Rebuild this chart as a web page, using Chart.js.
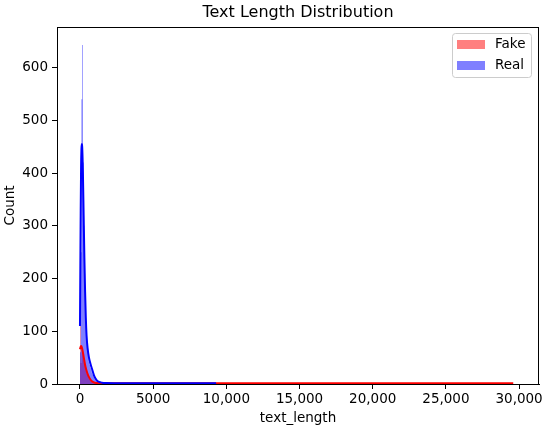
<!DOCTYPE html>
<html>
<head>
<meta charset="utf-8">
<script src="https://cdn.jsdelivr.net/npm/chart.js@4"></script>
<style>
  body { margin: 0; background: #fff; }
</style>
</head>
<body>
<canvas id="histChart" width="550" height="432"></canvas>
<script>
// histogram bins (50 chars wide, starting at 0)
const binWidth = 50;
const realCounts = [60, 250, 540, 643, 420, 300, 210, 150, 110, 80, 62, 50, 42, 36, 30, 26, 22, 18, 14, 11, 9, 7, 6, 5, 4, 3, 3, 2, 2, 2, 1, 1, 1, 1, 0, 1, 0, 1];
const fakeCounts = [375, 40, 65, 60, 55, 45, 38, 30, 25, 20, 16, 13, 10, 8, 6, 5, 4, 3, 3, 2, 2, 2, 1, 1, 1, 1, 0, 1, 0, 1];

// kde curves (scaled to counts)
const realKdeX = [0, 25, 50, 75, 100, 125, 150, 175, 200, 250, 300, 350, 400, 450, 520, 614, 720, 840, 950, 1050, 1150, 1300, 1500, 1800, 2500, 4000, 6000, 9300];
const realKde = [110, 220, 330, 410, 445, 455, 450, 430, 400, 320, 240, 175, 125, 92, 68, 50, 38, 27, 17, 11, 7, 4, 2.5, 1.8, 1.5, 1.3, 1.2, 1.2];
const fakeKdeX = [0, 50, 90, 150, 250, 350, 430, 550, 700, 850, 1020, 1300, 2000, 4000, 10000, 20000, 29600];
const fakeKde = [66, 71, 72, 67, 52, 36, 27, 17, 9, 4.5, 2.5, 2, 1.6, 1.4, 1.3, 1.3, 1.3];

const xTicks = [0, 5000, 10000, 15000, 20000, 25000, 30000];
const yTicks = [0, 100, 200, 300, 400, 500, 600];

const FONT = "'DejaVu Sans', sans-serif";

function histPoints(counts) {
    let pts = counts.map((c, i) => ({ x: i * binWidth, y: c }));
    pts.push({ x: counts.length * binWidth, y: 0 });
    return pts;
}

function kdePoints(xs, ys) {
    return xs.map((x, i) => ({ x: x, y: ys[i] }));
}

// title, legend box and top/right spines
const decorPlugin = {
    id: 'decor',
    afterDraw(chart) {
        const ctx = chart.ctx;
        const a = chart.chartArea;
        ctx.save();
        ctx.strokeStyle = '#000';
        ctx.lineWidth = 1;
        ctx.beginPath();
        ctx.moveTo(a.left, a.top + 0.5);
        ctx.lineTo(a.right, a.top + 0.5);
        ctx.moveTo(a.right - 0.5, a.top);
        ctx.lineTo(a.right - 0.5, a.bottom);
        ctx.stroke();

        ctx.fillStyle = '#000';
        ctx.font = '16px ' + FONT;
        ctx.textAlign = 'center';
        ctx.textBaseline = 'middle';
        ctx.fillText('Text Length Distribution', (a.left + a.right) / 2, 13);

        // legend
        const lx = 452.5, ly = 33.5, lw = 79, lh = 44;
        ctx.beginPath();
        ctx.roundRect(lx, ly, lw, lh, 3);
        ctx.fillStyle = 'rgba(255,255,255,0.8)';
        ctx.fill();
        ctx.strokeStyle = '#cccccc';
        ctx.stroke();

        const items = [['Fake', 'rgba(255,0,0,0.5)'], ['Real', 'rgba(0,0,255,0.5)']];
        ctx.font = '13.5px ' + FONT;
        ctx.textAlign = 'left';
        items.forEach((it, i) => {
            const y = 40 + i * 21;
            ctx.fillStyle = it[1];
            ctx.fillRect(457, y, 28, 9);
            ctx.fillStyle = '#000';
            ctx.fillText(it[0], 495, y + 4.5);
        });
        ctx.restore();
    }
};

const ctx = document.getElementById('histChart');
new Chart(ctx, {
    type: 'line',
    data: {
        datasets: [
            {
                label: 'Real kde',
                data: kdePoints(realKdeX, realKde),
                borderColor: 'blue',
                borderWidth: 2,
                pointRadius: 0,
                cubicInterpolationMode: 'monotone',
                fill: false,
                order: 0
            },
            {
                label: 'Fake kde',
                data: kdePoints(fakeKdeX, fakeKde),
                borderColor: 'red',
                borderWidth: 2,
                pointRadius: 0,
                cubicInterpolationMode: 'monotone',
                fill: false,
                order: 1
            },
            {
                label: 'Real',
                data: histPoints(realCounts),
                stepped: true,
                borderColor: 'transparent',
                borderWidth: 0,
                backgroundColor: 'rgba(0,0,255,0.5)',
                pointRadius: 0,
                fill: 'origin',
                order: 2
            },
            {
                label: 'Fake',
                data: histPoints(fakeCounts),
                stepped: true,
                borderColor: 'transparent',
                borderWidth: 0,
                backgroundColor: 'rgba(255,0,0,0.5)',
                pointRadius: 0,
                fill: 'origin',
                order: 3
            }
        ]
    },
    options: {
        responsive: false,
        animation: false,
        layout: { padding: { left: 0, right: 11, top: 27, bottom: 0 } },
        plugins: {
            legend: { display: false },
            tooltip: { enabled: false },
            title: { display: false }
        },
        scales: {
            x: {
                type: 'linear',
                min: -1570,
                max: 31360,
                afterFit: (s) => { s.height = 48; },
                afterBuildTicks: (s) => { s.ticks = xTicks.map(v => ({ value: v })); },
                grid: { display: true, drawOnChartArea: false, drawTicks: true, tickLength: 5, color: '#000' },
                border: { display: true, color: '#000' },
                ticks: {
                    color: '#000',
                    padding: 2,
                    maxRotation: 0,
                    font: { family: FONT, size: 13.5 },
                    callback: (v) => v >= 10000 ? v.toLocaleString('en-US') : String(v)
                },
                title: {
                    display: true,
                    text: 'text_length',
                    color: '#000',
                    font: { family: FONT, size: 13.5 },
                    padding: { top: 0, bottom: 5.5 }
                }
            },
            y: {
                type: 'linear',
                min: 0,
                max: 677,
                afterFit: (s) => { s.width = 57; },
                afterBuildTicks: (s) => { s.ticks = yTicks.map(v => ({ value: v })); },
                grid: { display: true, drawOnChartArea: false, drawTicks: true, tickLength: 5, color: '#000' },
                border: { display: true, color: '#000' },
                ticks: {
                    color: '#000',
                    padding: 4,
                    font: { family: FONT, size: 13.5 }
                },
                title: {
                    display: true,
                    text: 'Count',
                    color: '#000',
                    font: { family: FONT, size: 13.5 },
                    padding: { top: 2, bottom: 0 }
                }
            }
        }
    },
    plugins: [decorPlugin]
});
</script>
</body>
</html>
